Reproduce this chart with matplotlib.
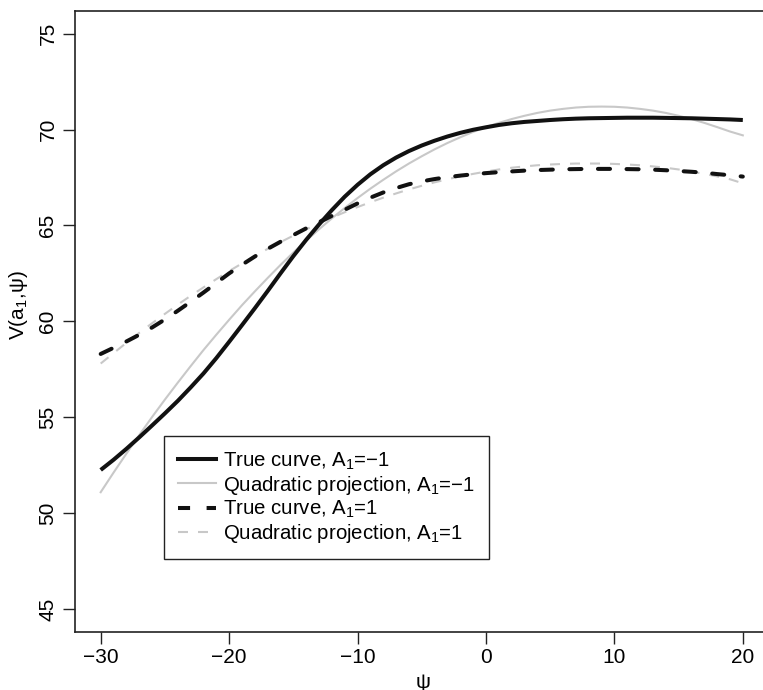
import matplotlib
matplotlib.use("Agg")
import matplotlib.pyplot as plt
from matplotlib.lines import Line2D

plt.rcParams['font.family'] = ['Liberation Sans', 'DejaVu Sans']
plt.rcParams['mathtext.fontset'] = 'custom'
plt.rcParams['mathtext.rm'] = 'Liberation Sans'
plt.rcParams['mathtext.it'] = 'Liberation Sans:italic'

# ---- data ----
psi = list(range(-30, 21))
true_m1 = [52.25, 52.78, 53.35, 53.95, 54.57, 55.20, 55.85, 56.55, 57.28, 58.08,
           58.93, 59.80, 60.68, 61.58, 62.50, 63.40, 64.25, 65.05, 65.80, 66.50,
           67.12, 67.67, 68.14, 68.54, 68.88, 69.17, 69.42, 69.64, 69.83, 69.99,
           70.12, 70.24, 70.33, 70.40, 70.45, 70.50, 70.54, 70.57, 70.59, 70.60,
           70.61, 70.62, 70.62, 70.62, 70.61, 70.60, 70.59, 70.57, 70.55, 70.53,
           70.50]
quad_m1 = [51.09, 52.11, 53.10, 54.07, 55.01, 55.92, 56.80, 57.66, 58.50, 59.30,
           60.08, 60.84, 61.56, 62.26, 62.94, 63.59, 64.21, 64.80, 65.37, 65.91,
           66.43, 66.92, 67.38, 67.82, 68.23, 68.61, 68.97, 69.30, 69.60, 69.88,
           70.13, 70.35, 70.55, 70.72, 70.87, 70.99, 71.08, 71.15, 71.19, 71.20,
           71.19, 71.15, 71.08, 70.99, 70.87, 70.72, 70.55, 70.35, 70.13, 69.90,
           69.70]
true_p1 = [58.30, 58.62, 58.95, 59.30, 59.68, 60.10, 60.55, 61.02, 61.50, 62.00,
           62.50, 62.95, 63.38, 63.78, 64.15, 64.50, 64.85, 65.17, 65.50, 65.82,
           66.15, 66.45, 66.72, 66.95, 67.15, 67.30, 67.42, 67.52, 67.60, 67.67,
           67.73, 67.78, 67.82, 67.86, 67.89, 67.91, 67.93, 67.94, 67.95, 67.95,
           67.95, 67.94, 67.93, 67.91, 67.88, 67.84, 67.80, 67.75, 67.68, 67.62,
           67.55]
quad_p1 = [57.80, 58.34, 58.88, 59.40, 59.90, 60.39, 60.87, 61.33, 61.77, 62.20,
           62.62, 63.02, 63.41, 63.78, 64.13, 64.47, 64.80, 65.11, 65.41, 65.69,
           65.96, 66.21, 66.45, 66.67, 66.88, 67.07, 67.25, 67.41, 67.56, 67.69,
           67.81, 67.92, 68.01, 68.08, 68.14, 68.18, 68.21, 68.23, 68.23, 68.23,
           68.21, 68.18, 68.14, 68.08, 68.01, 67.92, 67.81, 67.69, 67.56, 67.41,
           67.20]

labels = [r'True curve, $\mathregular{A_1}$=−1',
          r'Quadratic projection, $\mathregular{A_1}$=−1',
          r'True curve, $\mathregular{A_1}$=1',
          r'Quadratic projection, $\mathregular{A_1}$=1']
xticks = [-30, -20, -10, 0, 10, 20]
yticks = [45, 50, 55, 60, 65, 70, 75]

FS = 15
LFS = 14.7
W, H = 763, 690
fig = plt.figure(figsize=(W / 100, H / 100), dpi=100)
# axes box in pixels: left 75, right 768.5 (beyond the image edge), top 10.7, bottom 632
L, R, T, B = 75, 768.5, 10.7, 632
ax = fig.add_axes([L / W, (H - B) / H, (R - L) / W, (B - T) / H])
ax.set_xlim(-32, 22)
ax.set_ylim(43.8, 76.2)

black = '#111111'
gray = '#c8c8c8'
ax.plot(psi, true_m1, color=black, lw=2.9, solid_capstyle='butt', zorder=3)
ax.plot(psi, quad_m1, color=gray, lw=1.5, zorder=2)
ax.plot(psi, true_p1, color=black, lw=2.9, dashes=(3.0, 4.1), dash_capstyle='round', zorder=3)
ax.plot(psi, quad_p1, color=gray, lw=1.5, dashes=(4.8, 4.8), zorder=2)

for s in ax.spines.values():
    s.set_color('#222222')
    s.set_linewidth(1.2)
ax.spines['right'].set_visible(False)

ax.set_xticks(xticks)
ax.set_yticks(yticks)
ax.set_xticklabels([f'{v}'.replace('-', '−') for v in xticks])
ax.set_yticklabels([str(v) for v in yticks], rotation=90, va='center')
ax.tick_params(axis='both', direction='out', length=8.6, width=1.0, color='#222222',
               labelsize=FS)
ax.tick_params(axis='x', pad=3.0)
ax.tick_params(axis='y', pad=4.0)

fig.text(423 / W, 1 - 682 / H, 'ψ', ha='center', va='center', fontsize=FS)
fig.text(18 / W, 1 - 305 / H, r'V($\mathregular{a_1}$,ψ)', ha='center', va='center',
         rotation=90, fontsize=FS)

handles = [
    Line2D([], [], color=black, lw=2.9),
    Line2D([], [], color=gray, lw=1.5),
    Line2D([], [], color=black, lw=2.9, dashes=(3.0, 4.1)),
    Line2D([], [], color=gray, lw=1.5, dashes=(4.8, 4.8)),
]
leg = ax.legend(handles, labels, loc='upper left',
                bbox_to_anchor=((164 - L) / (R - L), (B - 436) / (B - T)),
                borderaxespad=0, fontsize=LFS, handlelength=1.85, handletextpad=0.35,
                labelspacing=0.1, borderpad=0.7, fancybox=False, framealpha=1,
                edgecolor='#222222')
leg.get_frame().set_linewidth(1.0)

fig.savefig('out.png', dpi=100)
